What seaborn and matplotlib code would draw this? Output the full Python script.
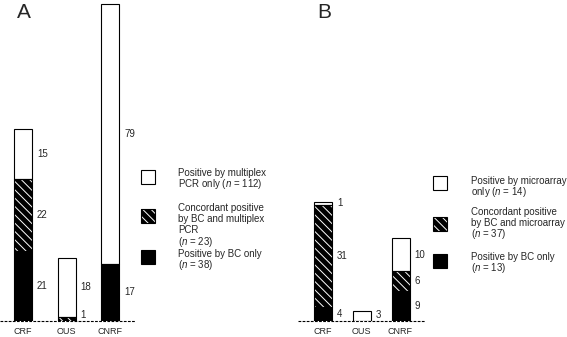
import numpy as np
import matplotlib
matplotlib.use("Agg")
import matplotlib.pyplot as plt
from matplotlib.patches import Rectangle
import seaborn as sns

sites = ["CRF", "OUS", "CNRF"]

# panel A: blood culture vs multiplex PCR
a_bc_only = [21, 0, 17]
a_concordant = [22, 1, 0]
a_pcr_only = [15, 18, 79]

# panel B: blood culture vs microarray
b_bc_only = [4, 0, 9]
b_concordant = [31, 0, 6]
b_array_only = [1, 3, 10]

W, H = 567, 337
PX_PER_UNIT = 3.3
HATCH = "\\\\\\\\"
FS = 7

sns.set_theme(style="white")
plt.rcParams["font.family"] = ["Liberation Sans", "DejaVu Sans"]
plt.rcParams["mathtext.fontset"] = "custom"
plt.rcParams["mathtext.rm"] = "Liberation Sans"
plt.rcParams["mathtext.it"] = "Liberation Sans:italic"
plt.rcParams["hatch.linewidth"] = 0.7

fig = plt.figure(figsize=(W / 100, H / 100), dpi=100)


def px_axes(left, top, width, height):
    return fig.add_axes([left / W, 1 - (top + height) / H, width / W, height / H])


def stacked_panel(ax, layers, width, centre_px, spacing_px, ax_left, ax_width):
    """Draw stacked bars (bottom layer first) with value labels at the right."""
    bottom = np.zeros(len(sites))
    styles = [("black", None), ("black", HATCH), ("white", None)]
    for values, (colour, hatch) in zip(layers, styles):
        values = np.asarray(values, dtype=float)
        n_before = len(ax.patches)
        sns.barplot(x=sites, y=values, bottom=bottom, color=colour, width=width,
                    saturation=1, errorbar=None, edgecolor="black", linewidth=0.8,
                    ax=ax, zorder=3)
        new_patches = ax.patches[n_before:]
        if hatch:
            for p in new_patches:
                p.set_hatch(hatch)
                p.set_edgecolor("white")
                p.set_linewidth(0)
                ax.add_patch(Rectangle(p.get_xy(), p.get_width(), p.get_height(),
                                       fill=False, edgecolor="black", linewidth=0.8,
                                       zorder=4))
        for i, v in enumerate(values):
            if v > 0:
                # tiny segments: keep the label just above the baseline
                y_lab = max(bottom[i] + v / 2, 1.7)
                ax.text(i + width / 2 + 5 / spacing_px, y_lab, f"{int(v)}",
                        fontsize=FS, ha="left", va="center")
        bottom = bottom + values

    ax.set_ylim(0, 320.5 / PX_PER_UNIT)
    x0 = -(centre_px - ax_left) / spacing_px
    ax.set_xlim(x0, x0 + ax_width / spacing_px)
    ax.axhline(0, color="black", linestyle=(0, (2.5, 1.2)), linewidth=0.8, zorder=2,
               clip_on=False)
    ax.set_yticks([])
    ax.set_xlabel("")
    ax.tick_params(axis="x", length=0, pad=4.5, labelsize=6.5)
    sns.despine(ax=ax, left=True, bottom=True)
    ax.set_facecolor("none")


ax_a = px_axes(0, 0, 135, 320.5)
stacked_panel(ax_a, [a_bc_only, a_concordant, a_pcr_only], 18 / 43.5, 23, 43.5, 0, 135)

ax_b = px_axes(298, 0, 127, 320.5)
stacked_panel(ax_b, [b_bc_only, b_concordant, b_array_only], 18 / 38.75, 323, 38.75, 298, 127)

# overlay in pixel coordinates for legends and panel letters
over = fig.add_axes([0, 0, 1, 1])
over.set_xlim(0, W)
over.set_ylim(H, 0)
over.axis("off")

over.text(17, 3, "A", fontsize=15, ha="left", va="top")
over.text(317, 3, "B", fontsize=15, ha="left", va="top")


def legend_entry(x_box, y_box, box_size, x_text, y_first, lines, colour, hatch=None):
    if hatch:
        over.add_patch(Rectangle((x_box, y_box), box_size, box_size, facecolor=colour,
                                 edgecolor="white", linewidth=0, hatch=hatch))
        over.add_patch(Rectangle((x_box, y_box), box_size, box_size, fill=False,
                                 edgecolor="black", linewidth=0.8))
    else:
        over.add_patch(Rectangle((x_box, y_box), box_size, box_size, facecolor=colour,
                                 edgecolor="black", linewidth=0.8))
    for k, line in enumerate(lines):
        over.text(x_text, y_first + 3.6 + k * 11.4, line, fontsize=FS, ha="left",
                  va="baseline")


n_a = [sum(a_pcr_only), sum(a_concordant), sum(a_bc_only)]
legend_entry(141, 170, 14, 178, 172,
             ["Positive by multiplex", f"PCR only ($n$ = {n_a[0]})"], "white")
legend_entry(141, 209, 14, 178, 207,
             ["Concordant positive", "by BC and multiplex", "PCR", f"($n$ = {n_a[1]})"],
             "black", HATCH)
legend_entry(141, 250, 14, 178, 253,
             ["Positive by BC only", f"($n$ = {n_a[2]})"], "black")

n_b = [sum(b_array_only), sum(b_concordant), sum(b_bc_only)]
legend_entry(433, 176, 14, 471, 180,
             ["Positive by microarray", f"only ($n$ = {n_b[0]})"], "white")
legend_entry(433, 217, 14, 471, 211,
             ["Concordant positive", "by BC and microarray", f"($n$ = {n_b[1]})"],
             "black", HATCH)
legend_entry(433, 254, 14, 471, 256,
             ["Positive by BC only", f"($n$ = {n_b[2]})"], "black")

fig.savefig("out.png", dpi=100)
